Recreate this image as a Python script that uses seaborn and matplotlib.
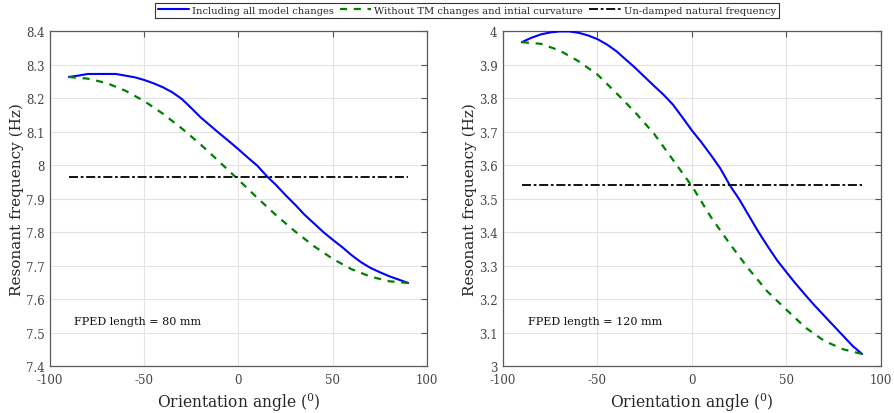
import numpy as np
import pandas as pd
import matplotlib
matplotlib.use("Agg")
import matplotlib.pyplot as plt
import seaborn as sns

# ---------------- data ----------------
angle_full = [-90, -80, -70, -60, -50, -40, -30, -20, -10, 0, 10, 20, 30, 40, 50, 60, 70, 80, 90]
angle_5 = [-90, -85, -80, -75, -70, -65, -60, -55, -50, -45, -40, -35, -30, -25, -20, -15, -10, -5,
           0, 5, 10, 15, 20, 25, 30, 35, 40, 45, 50, 55, 60, 65, 70, 75, 80, 85, 90]

# 80 mm
left_all_changes = [8.263, 8.267, 8.272, 8.272, 8.272, 8.272, 8.267, 8.262, 8.254, 8.244, 8.232, 8.217,
                    8.197, 8.170, 8.142, 8.118, 8.094, 8.071, 8.047, 8.022, 7.998, 7.967, 7.940, 7.910,
                    7.882, 7.852, 7.826, 7.800, 7.777, 7.755, 7.731, 7.710, 7.693, 7.680, 7.668, 7.658,
                    7.648]
left_without_tm = [8.263, 8.258, 8.245, 8.222, 8.191, 8.153, 8.109, 8.061, 8.009, 7.956, 7.902, 7.850,
                   7.802, 7.758, 7.720, 7.689, 7.667, 7.653, 7.648]
left_undamped = 7.964

# 120 mm
right_all_changes = [3.967, 3.980, 3.990, 3.996, 3.999, 3.999, 3.995, 3.987, 3.976, 3.960, 3.940, 3.915,
                     3.890, 3.863, 3.836, 3.810, 3.780, 3.742, 3.703, 3.668, 3.630, 3.590, 3.540, 3.498,
                     3.450, 3.402, 3.358, 3.316, 3.280, 3.245, 3.212, 3.180, 3.150, 3.120, 3.090, 3.060,
                     3.036]
right_without_tm = [3.967, 3.962, 3.942, 3.910, 3.870, 3.815, 3.757, 3.693, 3.615, 3.537, 3.445, 3.365,
                    3.290, 3.222, 3.168, 3.115, 3.075, 3.050, 3.036]
right_undamped = 3.540

series_labels = ["Including all model changes",
                 "Without TM changes and intial curvature",
                 "Un-damped natural frequency"]
panel_notes = ["FPED length = 80 mm", "FPED length = 120 mm"]
left_yticks = [7.4, 7.5, 7.6, 7.7, 7.8, 7.9, 8.0, 8.1, 8.2, 8.3, 8.4]
left_yticklabels = ["7.4", "7.5", "7.6", "7.7", "7.8", "7.9", "8", "8.1", "8.2", "8.3", "8.4"]
right_yticks = [3.0, 3.1, 3.2, 3.3, 3.4, 3.5, 3.6, 3.7, 3.8, 3.9, 4.0]
right_yticklabels = ["3", "3.1", "3.2", "3.3", "3.4", "3.5", "3.6", "3.7", "3.8", "3.9", "4"]
xticks = [-100, -50, 0, 50, 100]
xticklabels = ["-100", "-50", "0", "50", "100"]

# ---------------- style ----------------
sns.set_style("white")
plt.rcParams["font.family"] = ["DejaVu Serif"]
plt.rcParams["mathtext.fontset"] = "dejavuserif"
plt.rcParams["axes.unicode_minus"] = False

fig = plt.figure(figsize=(8.94, 4.14), dpi=100)
axL = fig.add_axes([0.0559, 0.1135, 0.4217, 0.809])
axR = fig.add_axes([0.5626, 0.1135, 0.4228, 0.809])

panels = [
    (axL, left_all_changes, left_without_tm, left_undamped, (7.4, 8.4), left_yticks, left_yticklabels, panel_notes[0], 7.534),
    (axR, right_all_changes, right_without_tm, right_undamped, (3.0, 4.0), right_yticks, right_yticklabels, panel_notes[1], 3.134),
]

for ax, blue, green, und, ylim, yt, ytl, note, note_y in panels:
    df_b = pd.DataFrame({"angle": angle_5, "freq": blue})
    df_g = pd.DataFrame({"angle": angle_full, "freq": green})
    df_u = pd.DataFrame({"angle": [angle_full[0], angle_full[-1]], "freq": [und, und]})
    sns.lineplot(data=df_b, x="angle", y="freq", ax=ax, color="#0000ff", lw=1.5,
                 label=series_labels[0], zorder=3)
    sns.lineplot(data=df_g, x="angle", y="freq", ax=ax, color="#008000", lw=1.6,
                 linestyle=(0, (3.2, 3.0)), label=series_labels[1], zorder=3)
    sns.lineplot(data=df_u, x="angle", y="freq", ax=ax, color="black", lw=1.3,
                 linestyle=(0, (5, 1.5, 1.5, 1.5)), label=series_labels[2], zorder=3)
    ax.set_xlim(-100, 100)
    ax.set_ylim(*ylim)
    ax.set_xticks(xticks)
    ax.set_xticklabels(xticklabels)
    ax.set_yticks(yt)
    ax.set_yticklabels(ytl)
    ax.grid(True, color="#e3e3e3", lw=0.8)
    ax.set_axisbelow(True)
    ax.tick_params(direction="in", length=4, width=0.8, colors="#555555",
                   labelsize=8.5, top=True, right=True, labelcolor="#444444")
    ax.tick_params(axis="x", pad=5)
    ax.tick_params(axis="y", pad=4)
    for s in ax.spines.values():
        s.set_color("#5a5a5a")
        s.set_linewidth(0.9)
    ax.set_xlabel(r"Orientation angle ($^0$)", fontsize=11.2, labelpad=3)
    ax.set_ylabel("Resonant frequency (Hz)", fontsize=11, labelpad=1)
    ax.text(-87, note_y, note, fontsize=8, va="center", ha="left", color="#111111")
    ax.get_legend().remove()

handles, labels = axL.get_legend_handles_labels()
leg = fig.legend(handles, labels, loc="upper center", bbox_to_anchor=(0.522, 1.003), ncol=3,
                 fontsize=7.1, frameon=True, fancybox=False, handlelength=3.2,
                 columnspacing=0.6, handletextpad=0.3, borderpad=0.3)
leg.get_frame().set_edgecolor("black")
leg.get_frame().set_linewidth(0.8)

fig.savefig("out.png", dpi=100)
